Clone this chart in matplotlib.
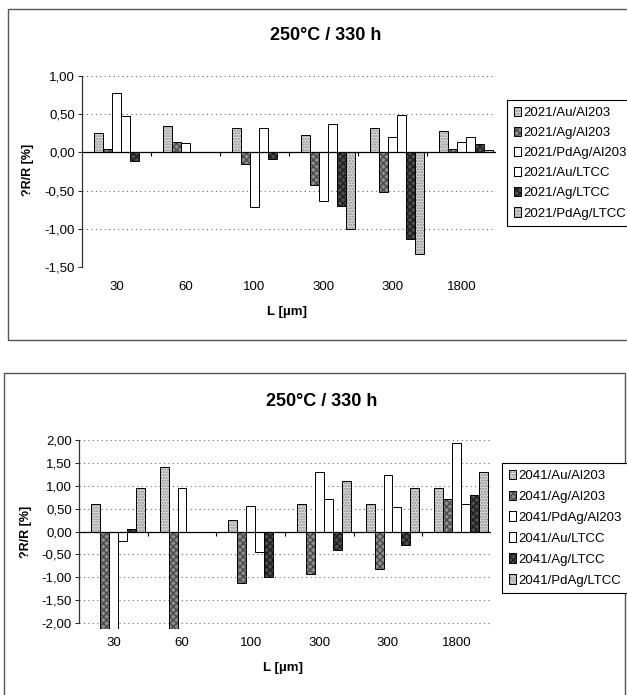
import matplotlib
matplotlib.use("Agg")
import matplotlib.pyplot as plt
from matplotlib.patches import Rectangle, Patch
from matplotlib.ticker import FuncFormatter, MultipleLocator
from matplotlib.markers import TICKDOWN
import numpy as np

plt.rcParams['font.family'] = ['Liberation Sans', 'DejaVu Sans']

W, H = 627, 695

categories = ["30", "60", "100", "300", "300", "1800"]

# 2021 paste, 250 °C / 330 h
names_2021 = ["2021/Au/Al203", "2021/Ag/Al203", "2021/PdAg/Al203",
              "2021/Au/LTCC", "2021/Ag/LTCC", "2021/PdAg/LTCC"]
au_al_2021   = [0.26, 0.35, 0.32, 0.23, 0.32, 0.28]
ag_al_2021   = [0.05, 0.14, -0.15, -0.43, -0.52, 0.05]
pdag_al_2021 = [0.78, 0.12, -0.71, -0.64, 0.20, 0.14]
au_lt_2021   = [0.47, 0.00, 0.32, 0.37, 0.49, 0.20]
ag_lt_2021   = [-0.11, 0.00, -0.09, -0.70, -1.13, 0.11]
pdag_lt_2021 = [0.00, 0.00, 0.01, -1.00, -1.33, 0.03]

# 2041 paste, 250 °C / 330 h
names_2041 = ["2041/Au/Al203", "2041/Ag/Al203", "2041/PdAg/Al203",
              "2041/Au/LTCC", "2041/Ag/LTCC", "2041/PdAg/LTCC"]
au_al_2041   = [0.60, 1.40, 0.25, 0.60, 0.60, 0.95]
ag_al_2041   = [-2.50, -2.50, -1.12, -0.92, -0.83, 0.70]
pdag_al_2041 = [-2.50, 0.95, 0.55, 1.30, 1.23, 1.93]
au_lt_2041   = [-0.20, 0.00, -0.45, 0.70, 0.53, 0.60]
ag_lt_2041   = [0.05, 0.00, -1.00, -0.40, -0.30, 0.80]
pdag_lt_2041 = [0.95, 0.00, 0.00, 1.10, 0.95, 1.30]

# face colour, hatch, hatch colour for the six series
styles = [("#dcdcdc", "......", "#8a8a8a"),
          ("#8e8e8e", "xxxxx", "#4a4a4a"),
          ("white", None, None),
          ("white", None, None),
          ("#4e4e4e", "xxxxx", "#1e1e1e"),
          ("#d6d6d6", "......", "#8a8a8a")]


def fx(px):
    return px / W


def fy(py):
    return 1 - py / H


def comma(v, pos):
    return f"{v:.2f}".replace(".", ",")


def bar_chart(fig, rect_px, series, names, ylim, ylo_line, step,
              tick_pad, legend_xy, legend_spacing):
    l, t, r, b = rect_px
    ax = fig.add_axes([fx(l), fy(b), fx(r) - fx(l), fy(t) - fy(b)])
    x = np.arange(len(categories))
    w = 0.131
    handles = []
    for i, (vals, (fc, hatch, hc)) in enumerate(zip(series, styles)):
        pos = x + (i - 2.5) * w
        if hatch:
            ax.bar(pos, vals, w, align="edge", color=fc, hatch=hatch,
                   edgecolor=hc, linewidth=0, zorder=2)
        ax.bar(pos, vals, w, align="edge", facecolor=fc if not hatch else "none",
               edgecolor="black", linewidth=0.7, zorder=3)
        hp = Patch(facecolor=fc, hatch=hatch, edgecolor=hc if hatch else "black",
                   linewidth=0 if hatch else 0.7)
        ep = Patch(facecolor="none", edgecolor="black", linewidth=0.7)
        handles.append((hp, ep))

    ax.set_xlim(-0.5, len(categories) - 0.5)
    ax.set_ylim(*ylim)
    ax.yaxis.set_major_locator(MultipleLocator(step))
    ax.yaxis.set_major_formatter(FuncFormatter(comma))
    ax.set_xticks(x)
    ax.set_xticklabels(categories)
    ax.tick_params(axis="x", length=0, pad=tick_pad, labelsize=9.5)
    ax.tick_params(axis="y", length=3, width=0.6, pad=2, labelsize=9.5)

    # dotted grid and plot-area outline
    dot = (0, (1, 3))
    for yv in np.arange(ylo_line, ylim[1] + 1e-9, step):
        if abs(yv) > 1e-9:
            ax.axhline(yv, color="#666666", lw=0.8, ls=dot, zorder=1)
    for s in ("top", "right", "bottom"):
        ax.spines[s].set_visible(False)
    ax.axvline(len(categories) - 0.5, color="#888888", lw=0.8, ls=dot)
    ax.spines["left"].set_bounds(ylo_line, ylim[1])
    ax.spines["left"].set_linewidth(0.9)
    ax.spines["left"].set_color("#333333")

    # category axis at zero with separator ticks
    ax.axhline(0, color="black", lw=0.9, zorder=4)
    ax.plot(np.arange(0.5, len(categories) - 0.5), np.zeros(len(categories) - 1),
            ls="", marker=TICKDOWN, ms=3, mew=0.8, color="black", zorder=4)

    leg = fig.legend(handles, names, loc="upper left",
                     bbox_to_anchor=(fx(legend_xy[0]), fy(legend_xy[1])),
                     bbox_transform=fig.transFigure, fontsize=9.5,
                     handlelength=0.55, handleheight=0.7, handletextpad=0.15,
                     labelspacing=legend_spacing, borderpad=0.5,
                     borderaxespad=0, fancybox=False, framealpha=1)
    leg.get_frame().set_edgecolor("black")
    leg.get_frame().set_linewidth(0.8)
    return ax


fig = plt.figure(figsize=(W / 100, H / 100), dpi=100)

# outer chart frames
fig.patches.append(Rectangle((fx(8), fy(340)), fx(700) - fx(8), fy(9) - fy(340),
                             transform=fig.transFigure, fill=False,
                             edgecolor="#555555", lw=1.0))
fig.patches.append(Rectangle((fx(4), fy(720)), fx(625) - fx(4), fy(373) - fy(720),
                             transform=fig.transFigure, fill=False,
                             edgecolor="#555555", lw=1.0))

series_2021 = [au_al_2021, ag_al_2021, pdag_al_2021, au_lt_2021, ag_lt_2021, pdag_lt_2021]
series_2041 = [au_al_2041, ag_al_2041, pdag_al_2041, au_lt_2041, ag_lt_2041, pdag_lt_2041]

bar_chart(fig, (82, 76, 496, 267), series_2021, names_2021,
          (-1.5, 1.0), -1.5, 0.5, 10, (507, 100), 0.6)
bar_chart(fig, (79, 440, 491, 628.5), series_2041, names_2041,
          (-2.12, 2.0), -2.0, 0.5, 6, (502, 463), 0.66)

for (tx, ty), (lx, ly), (yx, yy) in [((326, 35), (287, 312), (28, 170)),
                                      ((322, 402), (283, 668), (26, 532))]:
    fig.text(fx(tx), fy(ty), "250°C / 330 h", ha="center", va="center",
             fontsize=13, fontweight="bold")
    fig.text(fx(lx), fy(ly), "L [µm]", ha="center", va="center",
             fontsize=9.5, fontweight="bold")
    fig.text(fx(yx), fy(yy), "?R/R [%]", ha="center", va="center",
             fontsize=9, fontweight="bold", rotation=90)

fig.savefig("out.png", dpi=100)
